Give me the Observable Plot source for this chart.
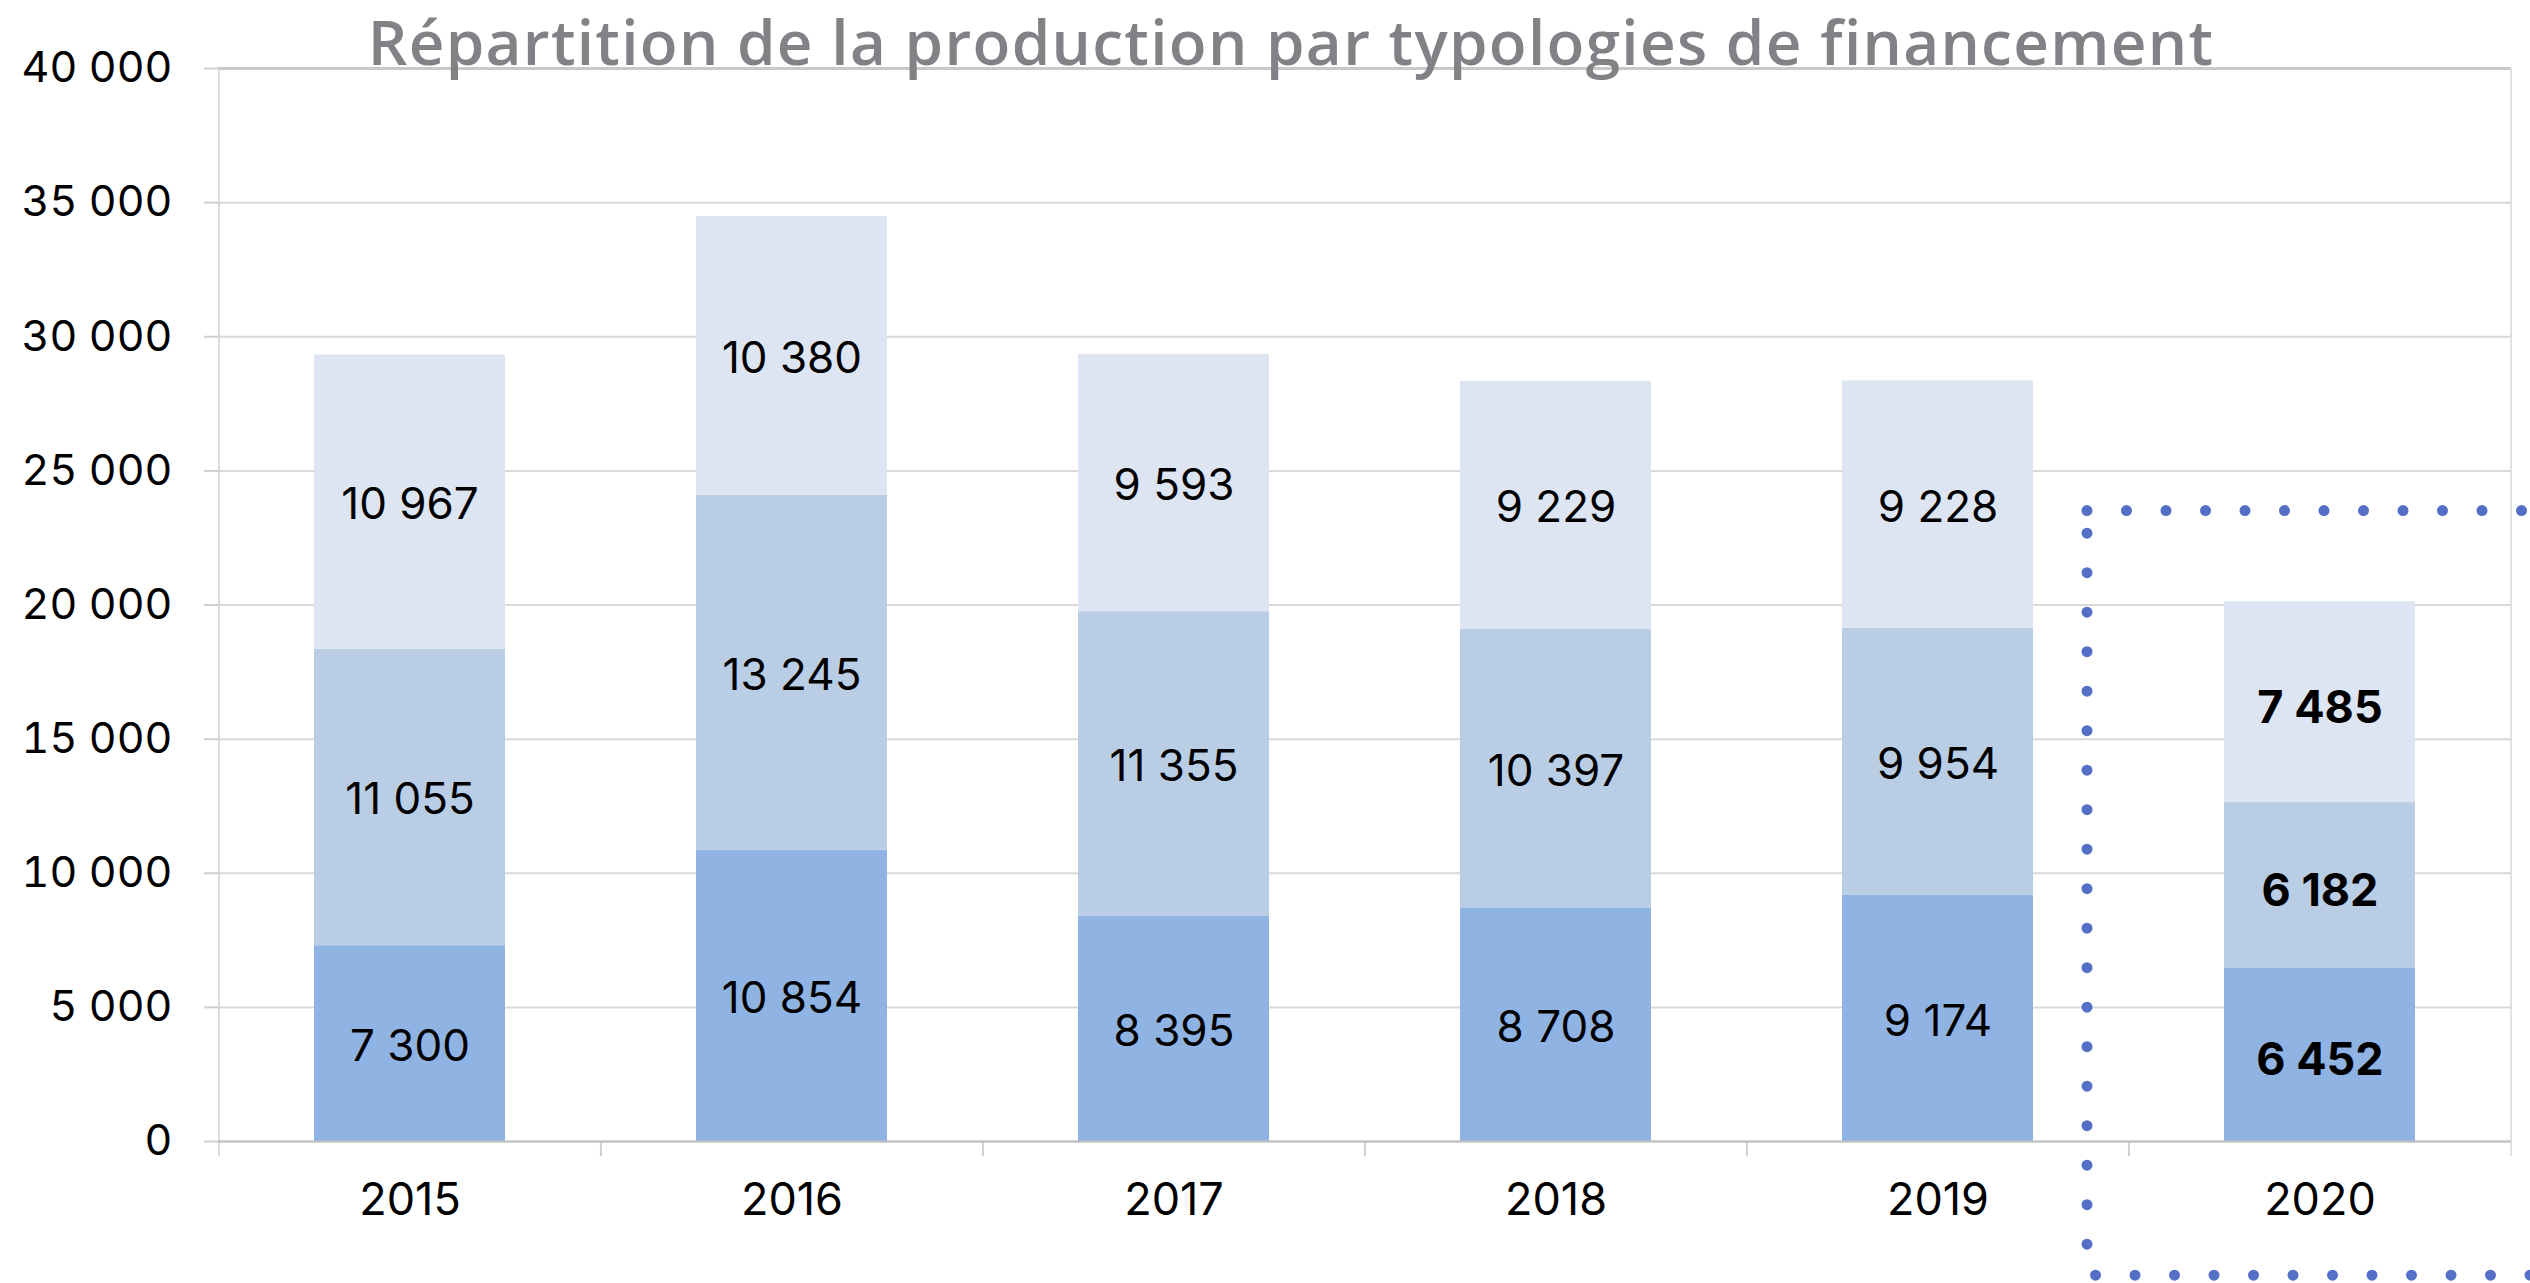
<!DOCTYPE html>
<html>
<head>
<meta charset="utf-8">
<script src="https://cdn.jsdelivr.net/npm/d3@7"></script>
<script src="https://cdn.jsdelivr.net/npm/@observablehq/plot@0.6"></script>
<style>
html, body { margin: 0; padding: 0; background: #fff; overflow: hidden; }
#wrap { position: relative; width: 2530px; height: 1283px; }
#title {
  position: absolute; left: 0; width: 2582px; top: 10px;
  text-align: center; font-family: "Open Sans", sans-serif; font-weight: 600;
  font-size: 62px; line-height: 62px; letter-spacing: 1.3px; color: #818286; white-space: nowrap;
}
</style>
</head>
<body>
<div id="wrap"><div id="chart"></div><div id="title">Répartition de la production par typologies de financement</div></div>
<script>
// ---- data ----
const years = ["2015", "2016", "2017", "2018", "2019", "2020"];
const seriesNames = ["Série 1", "Série 2", "Série 3"];
const bottomValues = [7300, 10854, 8395, 8708, 9174, 6452];
const middleValues = [11055, 13245, 11355, 10397, 9954, 6182];
const topValues = [10967, 10380, 9593, 9229, 9228, 7485];
const yTicks = [0, 5000, 10000, 15000, 20000, 25000, 30000, 35000, 40000];
const highlightYear = "2020";

// ---- layout ----
const W = 2530, H = 1283;
const mL = 218, mR = 19, mT = 68, mB = 142;
const step = (W - mL - mR) / years.length;

// stacked table
const table = [];
years.forEach((yr, i) => {
  let base = 0;
  [bottomValues, middleValues, topValues].forEach((vals, s) => {
    table.push({year: yr, series: seriesNames[s], value: vals[i], y1: base, y2: base + vals[i], mid: base + vals[i] / 2});
    base += vals[i];
  });
});

const fmt = d => d3.format(",")(d).replace(/,/g, " ");

const plot = Plot.plot({
  width: W, height: H,
  marginLeft: mL, marginRight: mR, marginTop: mT, marginBottom: mB,
  style: {fontFamily: "Inter, sans-serif", background: "white", color: "black"},
  x: {domain: years, paddingInner: 0.5, paddingOuter: 0.25, label: null},
  y: {domain: [0, 40000], label: null},
  color: {domain: seriesNames, range: ["#8fb3e3", "#b9cde5", "#dce5f1"]},
  marks: [
    Plot.gridY({ticks: yTicks, stroke: "#d9d9d9", strokeOpacity: 1, strokeWidth: 2}),
    Plot.ruleY([40000], {stroke: "#c8c8c8", strokeWidth: 3}),
    Plot.ruleX([years[0]], {x: d => d, dx: -step / 2, y1: 40000, y2: 0, insetBottom: -15, stroke: "#cfcfcf", strokeWidth: 1.5}),
    Plot.ruleX([years[years.length - 1]], {x: d => d, dx: step / 2, y1: 40000, y2: 0, insetBottom: -15, stroke: "#d9d9d9", strokeWidth: 1.5}),
    Plot.ruleX(years.slice(1), {x: d => d, dx: -step / 2, y1: 0, y2: 0, insetBottom: -15, stroke: "#cfcfcf", strokeWidth: 2}),
    Plot.barY(table, {x: "year", y1: "y1", y2: "y2", fill: "series"}),
    Plot.ruleY([0], {stroke: "#bfbfbf", strokeWidth: 2}),
    Plot.axisY({ticks: yTicks, tickSize: 14, tickPadding: 32, tickFormat: fmt, fontSize: 43, fill: "black", stroke: "#cfcfcf", strokeWidth: 2, label: null}),
    Plot.axisX({tickSize: 0, tickPadding: 42, fontSize: 45, fill: "black", label: null}),
    Plot.text(table.filter(d => d.year !== highlightYear), {x: "year", y: "mid", text: d => fmt(d.value), fontSize: 44, dy: 3, fill: "black"}),
    Plot.text(table.filter(d => d.year === highlightYear), {x: "year", y: "mid", text: d => fmt(d.value), fontSize: 45, dy: 6, fontWeight: "bold", fill: "black"}),
    Plot.barY([highlightYear], {x: d => d, y1: -5000, y2: 23500, insetLeft: -137, insetRight: -400, fill: "none", stroke: "#5470c6", strokeWidth: 11, strokeDasharray: "0 39.5", strokeLinecap: "round", clip: false})
  ]
});
document.getElementById("chart").appendChild(plot);
</script>
</body>
</html>
